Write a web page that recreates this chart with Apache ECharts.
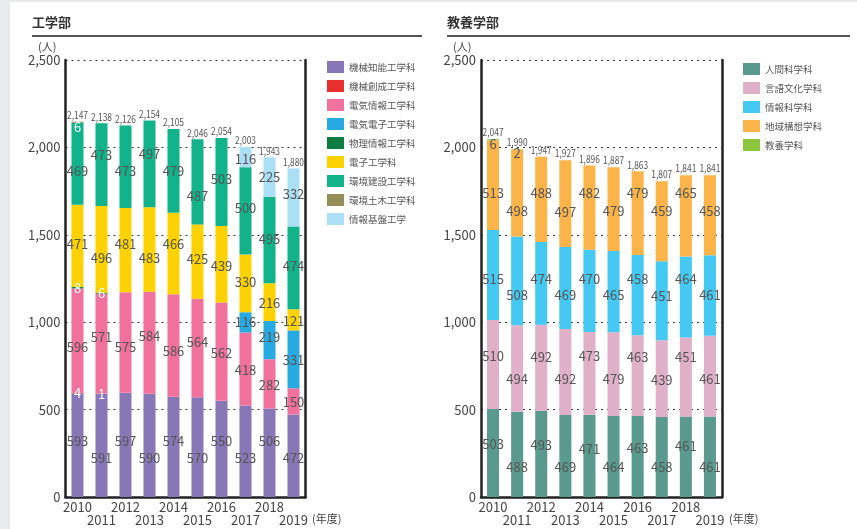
<!DOCTYPE html>
<html><head><meta charset="utf-8">
<script src="https://cdn.jsdelivr.net/npm/echarts@6/dist/echarts.min.js"></script>
<style>html,body{margin:0;padding:0;background:#e9eaeb;}#c{width:857px;height:529px;}</style>
</head><body><div id="c"></div>
<script>
// ---------- data ----------
const years = ['2010','2011','2012','2013','2014','2015','2016','2017','2018','2019'];
const yTicks = [0, 500, 1000, 1500, 2000, 2500];

// 工学部
const engNames = ['機械知能工学科','機械創成工学科','電気情報工学科','電気電子工学科','物理情報工学科','電子工学科','環境建設工学科','環境土木工学科','情報基盤工学'];
const kikaiChinou   = [593, 591, 597, 590, 574, 570, 550, 523, 506, 472];
const kikaiSousei   = [4, 1, null, null, null, null, null, null, null, null];
const denkiJouhou   = [596, 571, 575, 584, 586, 564, 562, 418, 282, 150];
const denkiDenshi   = [null, null, null, null, null, null, null, 116, 219, 331];
const butsuriJouhou = [8, 6, null, null, null, null, null, null, null, null];
const denshi        = [471, 496, 481, 483, 466, 425, 439, 330, 216, 121];
const kankyoKensetsu= [469, 473, 473, 497, 479, 487, 503, 500, 495, 474];
const kankyoDoboku  = [6, null, null, null, null, null, null, null, null, null];
const jouhouKiban   = [null, null, null, null, null, null, null, 116, 225, 332];

// 教養学部
const libNames = ['人間科学科','言語文化学科','情報科学科','地域構想学科','教養学科'];
const ningen   = [503, 488, 493, 469, 471, 464, 463, 458, 461, 461];
const gengo    = [510, 494, 492, 492, 473, 479, 463, 439, 451, 461];
const jouhouKa = [515, 508, 474, 469, 470, 465, 458, 451, 464, 461];
const chiiki   = [513, 498, 488, 497, 482, 479, 479, 459, 465, 458];
const kyouyou  = [6, 2, null, null, null, null, null, null, null, null];

// ---------- styles ----------
const FONT = "'Noto Sans CJK JP', 'Noto Sans', sans-serif";
const TXT = '#555';

const engColors = ['#8877b7','#e8302e','#f0719b','#27a9e1','#0b7d3e','#fcd200','#12b38a','#948f59','#abdff5'];
const libColors = ['#5a9a8e','#e0b0c8','#45c8f2','#fbb44a','#8cc63f'];

// label vertical offsets (px) per point, to mimic the reference's staggered labels
const engOffsets = [
  [-4,13,-4,13,-6,11,-8,7,-12,2],
  [0,0,0,0,0,0,0,0,0,0],
  [7,-7,5,-7,6,-6,1,1,1,1],
  [0,0,0,0,0,0,0,0,-3,1],
  [0,0,0,0,0,0,0,0,0,0],
  [-2,9,-6,8,-9,-3,2,-1,1,1],
  [7,-10,4,-10,0,14,-3,-3,-1,-2],
  [5,0,0,0,0,0,0,0,0,0],
  [0,0,0,0,0,0,0,2,0,-3]
];
const libOffsets = [
  [-9,13,-9,11,-7,11,-8,10,-11,10],
  [-8,11,-11,7,-17,5,-19,1,-20,3],
  [4,14,-4,7,-12,4,-16,-5,-18,0],
  [8,18,-6,8,-15,2,-20,-10,-23,-4],
  [4,4,0,0,0,0,0,0,0,0]
];
const engWhite = [false,true,false,false,true,false,false,true,false];

function sumArrays(arrs){
  return years.map((_, i) => arrs.reduce((s, a) => s + (a[i] || 0), 0));
}

function makeSeries(names, arrays, colors, offsets, whiteFlags, axisIdx, stack){
  return arrays.map((arr, s) => ({
    name: names[s],
    type: 'bar',
    stack: stack,
    xAxisIndex: axisIdx, yAxisIndex: axisIdx * 2,
    barWidth: '50%',
    itemStyle: { color: colors[s] },
    emphasis: { disabled: true },
    label: {
      show: true, position: 'inside',
      color: whiteFlags && whiteFlags[s] ? '#fff' : TXT,
      fontSize: 13, fontFamily: FONT
    },
    data: arr.map((v, i) => v == null ? null : ({ value: v, label: { offset: [0, offsets[s][i]] } }))
  }));
}

// totals drawn as condensed text above each stack (custom series, positioned via the axes)
function totalSeries(arrays, axisIdx){
  const totals = sumArrays(arrays);
  return {
    type: 'custom', xAxisIndex: axisIdx, yAxisIndex: axisIdx * 2, silent: true,
    renderItem: (params, api) => {
      const pt = api.coord([api.value(0), api.value(1)]);
      return {
        type: 'text', x: pt[0], y: pt[1] - 1.5, scaleX: 0.8,
        style: { text: api.value(1).toLocaleString('en-US'), font: "10.5px " + FONT,
                 fill: TXT, align: 'center', verticalAlign: 'bottom' }
      };
    },
    data: totals.map((t, i) => [i, t])
  };
}

const engArrays = [kikaiChinou, kikaiSousei, denkiJouhou, denkiDenshi, butsuriJouhou, denshi, kankyoKensetsu, kankyoDoboku, jouhouKiban];
const libArrays = [ningen, gengo, jouhouKa, chiiki, kyouyou];

const grids = [
  { left: 65.5, top: 60, width: 240, height: 437 },
  { left: 481, top: 60, width: 241, height: 437 }
];

function xAxis(gi){
  return {
    type: 'category', gridIndex: gi, data: years,
    axisLine: { lineStyle: { color: '#222', width: 2.5 } },
    axisTick: { show: false },
    axisLabel: { interval: 0, color: '#444', fontSize: 13, fontFamily: FONT, margin: 4, lineHeight: 13,
      formatter: (v, i) => (i % 2 === 1 ? '\n' + v : v) }
  };
}
function yAxisLeft(gi){
  return {
    type: 'value', gridIndex: gi, min: 0, max: 2500, interval: 500,
    axisLine: { show: true, lineStyle: { color: '#222', width: 2.5 } },
    axisTick: { show: false },
    splitLine: { show: true, lineStyle: { color: '#333', type: [2, 4], width: 1 } },
    axisLabel: { color: '#444', fontSize: 13, fontFamily: FONT, margin: 5,
      formatter: v => yTicks.includes(v) ? v.toLocaleString('en-US') : '' }
  };
}
function yAxisRight(gi){
  return {
    type: 'value', gridIndex: gi, min: 0, max: 2500, interval: 500, position: 'right',
    axisLine: { show: true, lineStyle: { color: '#222', width: 2.5 } },
    axisTick: { show: false }, splitLine: { show: false }, axisLabel: { show: false }
  };
}

function legend(names, colors, left, top){
  return {
    orient: 'vertical', left: left, top: top, padding: 0,
    itemWidth: 17, itemHeight: 12, itemGap: 7, icon: 'rect',
    selectedMode: false,
    textStyle: { color: TXT, fontSize: 9.5, fontFamily: FONT },
    data: names.map((n, i) => ({ name: n, itemStyle: { color: colors[i] } }))
  };
}

const chart = echarts.init(document.getElementById('c'));
chart.setOption({
  animation: false,
  backgroundColor: '#e9eaeb',
  grid: grids,
  xAxis: [xAxis(0), xAxis(1)],
  yAxis: [yAxisLeft(0), yAxisRight(0), yAxisLeft(1), yAxisRight(1)],
  legend: [legend(engNames, engColors, 327, 61), legend(libNames, libColors, 743, 63)],
  graphic: [
    { type: 'rect', shape: { x: 10, y: 2, width: 847, height: 527 }, style: { fill: '#fff' }, z: -10 },
    { type: 'text', left: 32, top: 16, style: { text: '工学部', font: "bold 13px " + FONT, fill: '#333' } },
    { type: 'text', left: 447, top: 16, style: { text: '教養学部', font: "bold 13px " + FONT, fill: '#333' } },
    { type: 'line', shape: { x1: 32, y1: 36, x2: 422, y2: 36 }, style: { stroke: '#555', lineWidth: 2 } },
    { type: 'line', shape: { x1: 447, y1: 36, x2: 850, y2: 36 }, style: { stroke: '#555', lineWidth: 2 } },
    { type: 'text', left: 38, top: 41, style: { text: '(人)', font: "11px " + FONT, fill: '#444' } },
    { type: 'text', left: 453, top: 41, style: { text: '(人)', font: "11px " + FONT, fill: '#444' } },
    { type: 'text', left: 312, top: 513, style: { text: '(年度)', font: "11px " + FONT, fill: '#444' } },
    { type: 'text', left: 729, top: 513, style: { text: '(年度)', font: "11px " + FONT, fill: '#444' } }
  ],
  series: [
    ...makeSeries(engNames, engArrays, engColors, engOffsets, engWhite, 0, 'eng'),
    totalSeries(engArrays, 0),
    ...makeSeries(libNames, libArrays, libColors, libOffsets, null, 1, 'lib'),
    totalSeries(libArrays, 1)
  ]
});
</script></body></html>
